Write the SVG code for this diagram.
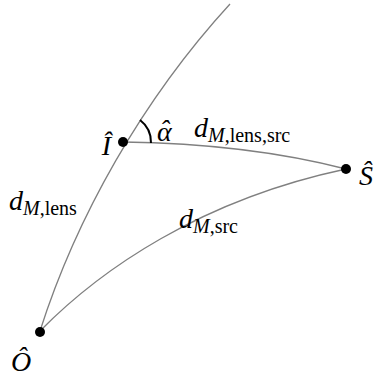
<svg xmlns="http://www.w3.org/2000/svg" width="374" height="377" viewBox="0 0 374 377">
<style>
.c{fill:none;stroke:#808080;stroke-width:1.3}
.dot{fill:#000}
.t{font-family:"Liberation Serif","Times New Roman",serif;font-size:28px;font-style:italic;fill:#000}
.s{font-size:20px}
.u{font-style:normal}
</style>
<rect width="374" height="377" fill="#fff"/>
<g id="connectors">
<path class="c" d="M40,331 C76,218 142,100 230,4"/>
<path class="c" d="M123,142 C200,143 280,152 346,169"/>
<path class="c" d="M40,331 C100,270 200,200 346,169"/>
<path d="M140,120 A28,28 0 0 1 151,143" fill="none" stroke="#000" stroke-width="2"/>
</g>
<g id="nodeI"><circle class="dot" cx="123" cy="142" r="5"/><text class="t" x="111" y="155" text-anchor="end">Î</text></g>
<g id="nodeO"><circle class="dot" cx="40" cy="332" r="5"/><text class="t" x="11" y="371">Ô</text></g>
<g id="nodeS"><circle class="dot" cx="346" cy="169" r="5"/><text class="t" x="359" y="185">Ŝ</text></g>
<g id="labels">
<text class="t" x="157" y="141">α<tspan dx="-12" dy="-2">ˆ</tspan></text>
<text class="t" x="194" y="137">d<tspan class="s" dy="5">M</tspan><tspan class="s u">,lens,src</tspan></text>
<text class="t" x="9" y="210">d<tspan class="s" dy="5">M</tspan><tspan class="s u">,lens</tspan></text>
<text class="t" x="179" y="228">d<tspan class="s" dy="5">M</tspan><tspan class="s u">,src</tspan></text>
</g>
</svg>
